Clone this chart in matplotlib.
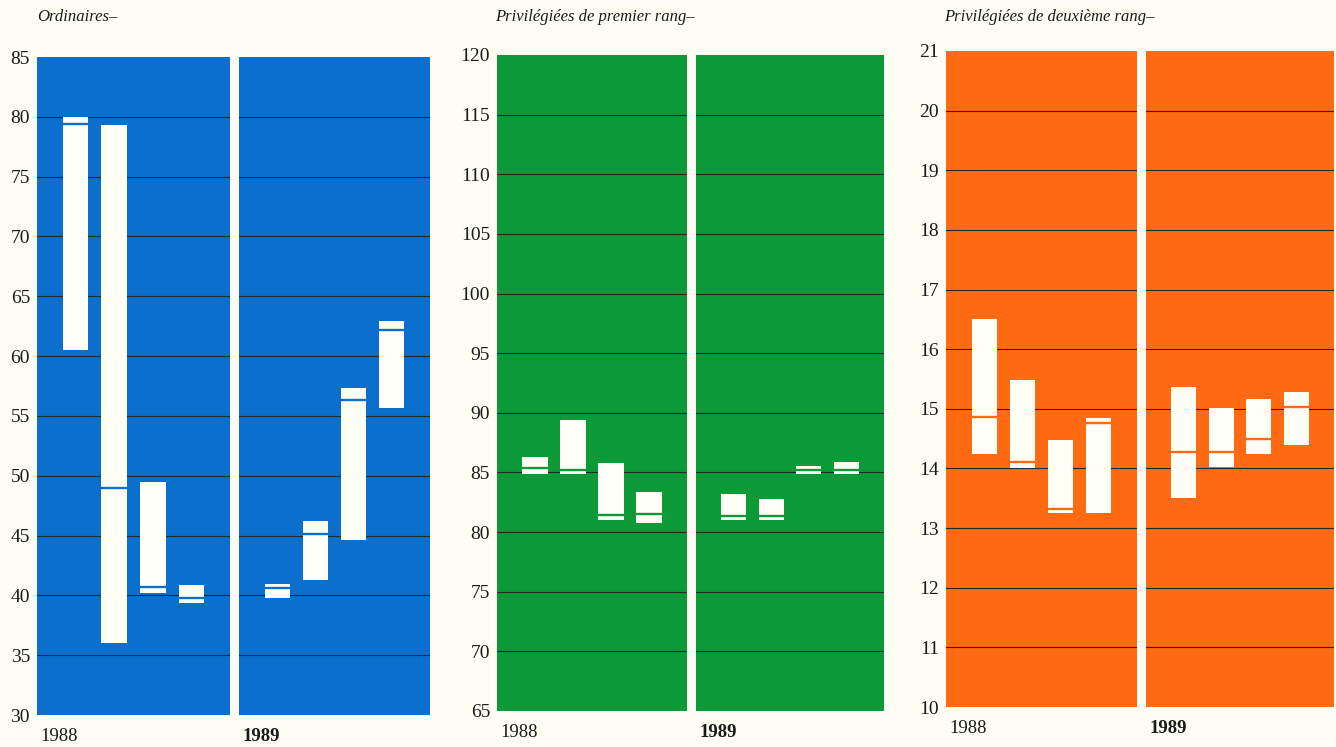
import matplotlib.pyplot as plt
import numpy as np

# Ordinaires - quarterly high / low / close, 1988 and 1989
ord_high_88 = [80.0, 79.3, 49.5, 40.9]
ord_low_88 = [60.5, 36.0, 40.2, 39.4]
ord_mark_88 = [79.4, 49.0, 40.7, 39.8]
ord_high_89 = [40.95, 46.2, 57.3, 62.9]
ord_low_89 = [39.8, 41.3, 44.6, 55.7]
ord_mark_89 = [40.65, 45.1, 56.3, 62.2]

# Privilegiees de premier rang
p1_high_88 = [86.3, 89.4, 85.8, 83.4]
p1_low_88 = [84.9, 84.9, 81.0, 80.8]
p1_mark_88 = [85.35, 85.2, 81.45, 81.5]
p1_high_89 = [83.2, 82.8, 85.5, 85.9]
p1_low_89 = [81.0, 81.0, 84.9, 84.9]
p1_mark_89 = [81.35, 81.35, 85.2, 85.2]

# Privilegiees de deuxieme rang
p2_high_88 = [16.5, 15.48, 14.48, 14.84]
p2_low_88 = [14.24, 14.0, 13.25, 13.26]
p2_mark_88 = [14.87, 14.11, 13.32, 14.77]
p2_high_89 = [15.36, 15.01, 15.17, 15.29]
p2_low_89 = [13.5, 14.02, 14.24, 14.4]
p2_mark_89 = [14.28, 14.28, 14.5, 15.03]

quarters = [1, 2, 3, 4]
years = ['1988', '1989']
titles = ['Ordinaires–', 'Privilégiées de premier rang–', 'Privilégiées de deuxième rang–']
yticks_ord = list(range(30, 90, 5))
yticks_p1 = list(range(65, 125, 5))
yticks_p2 = list(range(10, 22, 1))

W, H = 1336, 747
BG = '#fdfdf4'
BAR = '#fffff6'
GRID = '#1c2a2a'
SERIF = ['Liberation Serif', 'DejaVu Serif']

fig = plt.figure(figsize=(W / 100, H / 100), dpi=100)
fig.patch.set_facecolor(BG)


def px_axes(x0, x1, y0, y1):
    return fig.add_axes([x0 / W, 1 - y1 / H, (x1 - x0) / W, (y1 - y0) / H])


def draw_half(ax, high, low, mark, color, yticks, show_ticks, year, bold):
    ax.set_facecolor(color)
    for s in ax.spines.values():
        s.set_visible(False)
    ax.set_xlim(0, 5)
    ax.set_ylim(yticks[0], yticks[-1])
    for g in yticks[1:-1]:
        ax.axhline(g, color=GRID, lw=0.8, zorder=2)
    high = np.array(high)
    low = np.array(low)
    w = 0.66
    ax.bar(quarters, high - low, bottom=low, width=w, color=BAR, zorder=3)
    ax.hlines(mark, np.array(quarters) - w / 2, np.array(quarters) + w / 2,
              color=color, lw=1.7, zorder=4)
    ax.set_xticks([])
    if show_ticks:
        ax.set_yticks(yticks)
        ax.set_yticklabels([str(t) for t in yticks], family=SERIF, fontsize=14,
                           color='#1a1a1a')
        ax.tick_params(axis='y', length=0, pad=5)
    else:
        ax.set_yticks([])
    ax.text(0.02, -0.02, year, transform=ax.transAxes, ha='left', va='top',
            family=SERIF, fontsize=13.5, color='#1a1a1a',
            fontweight='bold' if bold else 'normal')


panels = [
    (ord_high_88, ord_low_88, ord_mark_88, ord_high_89, ord_low_89, ord_mark_89,
     '#0b6fcd', yticks_ord, (37, 230, 239, 430), (57, 715), 37),
    (p1_high_88, p1_low_88, p1_mark_88, p1_high_89, p1_low_89, p1_mark_89,
     '#0c9a38', yticks_p1, (497, 687, 696, 884), (55, 711), 495),
    (p2_high_88, p2_low_88, p2_mark_88, p2_high_89, p2_low_89, p2_mark_89,
     '#ff6a12', yticks_p2, (946, 1137, 1146, 1334), (51, 707), 944),
]

for i, (h8, l8, m8, h9, l9, m9, col, yt, xs, ys, tx) in enumerate(panels):
    ax1 = px_axes(xs[0], xs[1], ys[0], ys[1])
    draw_half(ax1, h8, l8, m8, col, yt, True, years[0], False)
    ax2 = px_axes(xs[2], xs[3], ys[0], ys[1])
    draw_half(ax2, h9, l9, m9, col, yt, False, years[1], True)
    fig.text(tx / W, 1 - 17 / H, titles[i], ha='left', va='center',
             family=SERIF, style='italic', fontsize=12, color='#1a1a1a')

fig.savefig('out.png', dpi=100, facecolor=BG)
